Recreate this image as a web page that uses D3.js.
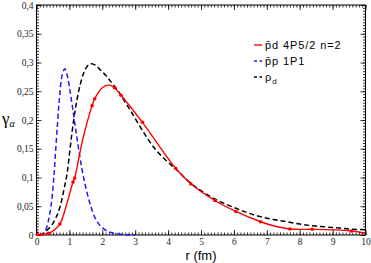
<!DOCTYPE html>
<html>
<head>
<meta charset="utf-8">
<script src="https://cdn.jsdelivr.net/npm/d3@7"></script>
<style>
  body { margin: 0; background: #fff; }
  svg { display: block; }
</style>
</head>
<body>
<div id="chart"></div>
<script>
// values
const blueR = [0.1, 0.18, 0.26, 0.35, 0.44, 0.52, 0.58, 0.64, 0.7, 0.78, 0.86, 0.94, 1.02, 1.1, 1.18, 1.28, 1.38, 1.5, 1.64, 1.78, 1.94, 2.14, 2.35, 2.6, 2.9, 3.0];
const blueY = [0, 0.002, 0.006, 0.022, 0.05, 0.095, 0.145, 0.195, 0.24, 0.278, 0.289, 0.276, 0.25, 0.22, 0.188, 0.15, 0.115, 0.082, 0.052, 0.03, 0.016, 0.007, 0.003, 0.001, 0, 0];

const blackR = [0.1, 0.22, 0.35, 0.52, 0.63, 0.73, 0.83, 0.93, 1.03, 1.13, 1.23, 1.33, 1.43, 1.55, 1.67, 1.8, 1.94, 2.1, 2.24, 2.45, 2.65, 2.85, 3.1, 3.35, 3.6, 3.86, 4.26, 4.67, 5.0, 5.37, 5.7, 6.08, 6.4, 6.79, 7.2, 7.6, 8.0, 8.4, 8.8, 9.21, 9.6, 10];
const blackY = [0, 0.003, 0.01, 0.022, 0.035, 0.052, 0.078, 0.107, 0.155, 0.2, 0.235, 0.262, 0.281, 0.294, 0.298, 0.295, 0.287, 0.278, 0.268, 0.253, 0.235, 0.217, 0.193, 0.17, 0.15, 0.134, 0.113, 0.091, 0.077, 0.064, 0.055, 0.046, 0.039, 0.032, 0.027, 0.023, 0.019, 0.016, 0.014, 0.012, 0.01, 0.009];

const redLineR = [0.02, 0.17, 0.37, 0.5, 0.71, 0.9, 1.11, 1.16, 1.4, 1.69, 1.77, 2.0, 2.2, 2.37, 2.57, 3.22, 4.23, 4.69, 5.42, 6.06, 6.81, 7.2, 7.7, 8.38, 9.0, 9.57, 10];
const redLineY = [0.001, 0.001, 0.003, 0.007, 0.019, 0.05, 0.092, 0.099, 0.165, 0.225, 0.237, 0.256, 0.261, 0.256, 0.243, 0.196, 0.116, 0.089, 0.06, 0.041, 0.023, 0.016, 0.0104, 0.0099, 0.009, 0.007, 0.003];
const redDotR = [0.02, 0.17, 0.37, 0.71, 1.11, 1.16, 1.69, 1.77, 2.37, 2.57, 3.22, 4.23, 4.69, 5.42, 6.06, 6.81, 7.7, 8.38, 9.57];
const redDotY = [0.001, 0.001, 0.003, 0.019, 0.092, 0.099, 0.225, 0.237, 0.256, 0.243, 0.196, 0.116, 0.089, 0.06, 0.041, 0.023, 0.0104, 0.0099, 0.007];

const xTicks = [0, 1, 2, 3, 4, 5, 6, 7, 8, 9, 10];
const yTicks = [0, 0.05, 0.1, 0.15, 0.2, 0.25, 0.3, 0.35, 0.4];
const legendLabels = ["p\u0304d 4P5/2 n=2", "p\u0304p 1P1", "\u03c1"];

const W = 371, H = 263;
const margin = { top: 5, right: 5.5, bottom: 28, left: 36.5 };
const width = W - margin.left - margin.right;
const height = H - margin.top - margin.bottom;

const svg = d3.select("#chart").append("svg").attr("width", W).attr("height", H);
const g = svg.append("g").attr("transform", `translate(${margin.left},${margin.top})`);

const x = d3.scaleLinear().domain([0, 10]).range([0, width]);
const y = d3.scaleLinear().domain([0, 0.4]).range([height, 0]);

const fmt = (d) => String(+d.toFixed(2)).replace(".", ",");
const xMinor = d3.range(0, 100.5, 1).map((d) => d / 10);
const yMinor = d3.range(0, 80.5, 1).map((d) => d / 200);

function styleAxis(sel) {
  sel.select(".domain").remove();
  sel.selectAll("line").attr("stroke", "#000").attr("stroke-width", 0.8);
  sel.selectAll("text")
    .attr("font-family", "'Liberation Serif', 'Times New Roman', serif")
    .attr("font-size", "9.5px")
    .attr("fill", "#222");
}

// minor ticks, all four sides
g.append("g").attr("transform", `translate(0,${height})`)
  .call(d3.axisBottom(x).tickValues(xMinor).tickSize(-2.5).tickFormat("")).call(styleAxis);
g.append("g")
  .call(d3.axisTop(x).tickValues(xMinor).tickSize(-2.5).tickFormat("")).call(styleAxis);
g.append("g")
  .call(d3.axisLeft(y).tickValues(yMinor).tickSize(-2.5).tickFormat("")).call(styleAxis);
g.append("g").attr("transform", `translate(${width},0)`)
  .call(d3.axisRight(y).tickValues(yMinor).tickSize(-2.5).tickFormat("")).call(styleAxis);

// major ticks
g.append("g").attr("transform", `translate(0,${height})`)
  .call(d3.axisBottom(x).tickValues(xTicks).tickSize(-5).tickPadding(3).tickFormat(fmt)).call(styleAxis);
g.append("g")
  .call(d3.axisTop(x).tickValues(xTicks).tickSize(-5).tickFormat("")).call(styleAxis);
g.append("g")
  .call(d3.axisLeft(y).tickValues(yTicks).tickSize(-5).tickPadding(3).tickFormat(fmt)).call(styleAxis);
g.append("g").attr("transform", `translate(${width},0)`)
  .call(d3.axisRight(y).tickValues(yTicks).tickSize(-5).tickFormat("")).call(styleAxis);

g.append("rect").attr("width", width).attr("height", height)
  .attr("fill", "none").attr("stroke", "#000").attr("stroke-width", 1);

const pts = (rs, ys) => rs.map((r, i) => [r, ys[i]]);
const line = d3.line().x((d) => x(d[0])).y((d) => y(d[1]));

g.append("path").datum(pts(blackR, blackY))
  .attr("d", line.curve(d3.curveCatmullRom))
  .attr("fill", "none").attr("stroke", "#000").attr("stroke-width", 1.5)
  .attr("stroke-dasharray", "5,3");

g.append("path").datum(pts(blueR, blueY))
  .attr("d", line.curve(d3.curveCatmullRom))
  .attr("fill", "none").attr("stroke", "#1a1aff").attr("stroke-width", 1.5)
  .attr("stroke-dasharray", "5,3");

g.append("path").datum(pts(redLineR, redLineY))
  .attr("d", line.curve(d3.curveCatmullRom))
  .attr("fill", "none").attr("stroke", "#ff0000").attr("stroke-width", 1.4);

g.selectAll("circle.dot").data(pts(redDotR, redDotY)).join("circle")
  .attr("class", "dot")
  .attr("cx", (d) => x(d[0])).attr("cy", (d) => y(d[1]))
  .attr("r", 1.8).attr("fill", "#ff0000");

// axis titles
svg.append("text")
  .attr("x", 201).attr("y", 260)
  .attr("text-anchor", "middle")
  .attr("font-family", "'Liberation Sans', Arial, sans-serif")
  .attr("font-size", "13px")
  .text("r (fm)");

const yt = svg.append("text")
  .attr("x", 2).attr("y", 124)
  .attr("font-family", "'Liberation Serif', 'Times New Roman', serif")
  .attr("font-size", "17px");
yt.append("tspan").text("\u03b3");
yt.append("tspan").attr("dy", 3).attr("font-size", "10px").attr("font-style", "italic").text("\u03b1");

// legend
const legendColors = ["#ff0000", "#1a1aff", "#000"];
const legendDash = [null, "3,2.5", "3,2.5"];
const legend = svg.append("g").attr("transform", "translate(254, 45)");
legendLabels.forEach((lab, i) => {
  const row = legend.append("g").attr("transform", `translate(0, ${i * 16})`);
  row.append("line")
    .attr("x1", 0).attr("x2", 8).attr("y1", 0).attr("y2", 0)
    .attr("stroke", legendColors[i]).attr("stroke-width", 1.4)
    .attr("stroke-dasharray", legendDash[i]);
  const t = row.append("text")
    .attr("x", 11).attr("y", 4)
    .attr("font-family", "'Liberation Sans', Arial, sans-serif")
    .attr("font-size", "11px")
    .attr("letter-spacing", "0.9px")
    .text(lab);
  if (i === 2) {
    t.append("tspan").attr("dy", 3).attr("font-size", "8px").text("d");
  }
});
</script>
</body>
</html>
